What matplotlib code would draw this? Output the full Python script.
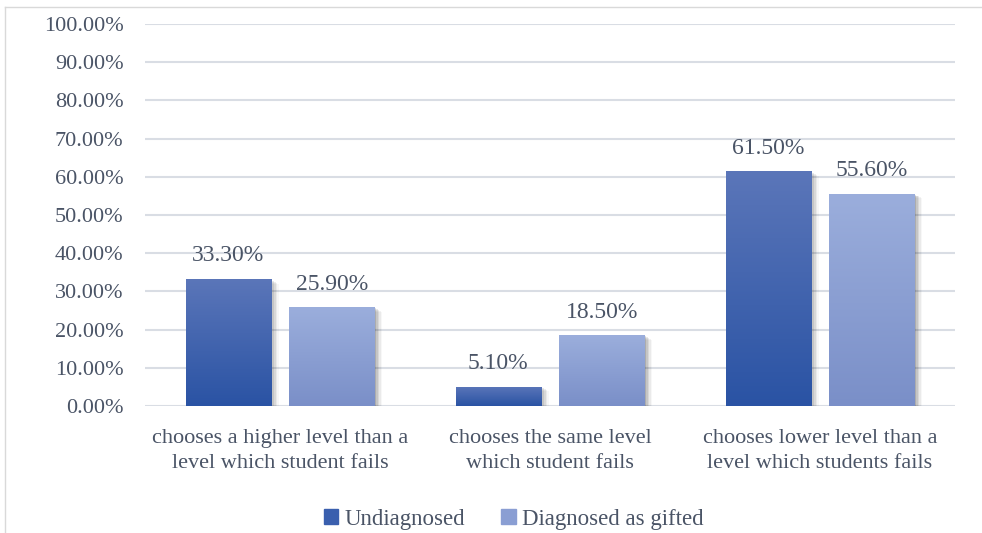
import matplotlib.pyplot as plt
import numpy as np
from matplotlib.colors import LinearSegmentedColormap
from matplotlib.patches import Rectangle
from matplotlib.lines import Line2D

categories = ["chooses a higher level than a\nlevel which student fails",
              "chooses the same level\nwhich student fails",
              "chooses lower level than a\nlevel which students fails"]
undiagnosed = [33.3, 5.1, 61.5]
gifted = [25.9, 18.5, 55.6]
series_names = ["Undiagnosed", "Diagnosed as gifted"]

text_color = "#4A5466"
plt.rcParams["font.family"] = ["Liberation Serif", "DejaVu Serif"]

fig = plt.figure(figsize=(9.82, 5.33), dpi=100)
ax = fig.add_axes([145 / 982, 127 / 533, 810 / 982, 382 / 533])

# outer frame (left and top edges visible)
fig.add_artist(Line2D([5 / 982, 5 / 982], [0, 1 - 7 / 533], transform=fig.transFigure,
                      color="#D9D9D9", lw=1))
fig.add_artist(Line2D([5 / 982, 1], [1 - 7 / 533, 1 - 7 / 533], transform=fig.transFigure,
                      color="#D9D9D9", lw=1))

x = np.arange(len(categories))
w = 0.315
off = 0.192

dark = LinearSegmentedColormap.from_list("dark", ["#2A53A4", "#5B76B9"])
light = LinearSegmentedColormap.from_list("light", ["#7A8FC8", "#9BAEDC"])
grad = np.linspace(0, 1, 256).reshape(-1, 1)


def gradient_bars(xs, vals, cmap):
    bars = ax.bar(xs, vals, w, color="none", zorder=3)
    for b in bars:
        x0, y0 = b.get_x(), b.get_y()
        bw, bh = b.get_width(), b.get_height()
        # soft shadow
        for i, a in enumerate([0.12, 0.09, 0.07, 0.05, 0.03]):
            d = 0.006 * (i + 1)
            ax.add_patch(Rectangle((x0 + d, y0 - 0.25 * (i + 1)), bw, bh,
                                   color="black", alpha=a, lw=0, zorder=2))
        im = ax.imshow(grad, cmap=cmap, aspect="auto", origin="lower",
                       extent=[x0, x0 + bw, y0, y0 + bh], zorder=3)
        im.set_clip_path(b)
    return bars


b1 = gradient_bars(x - off, undiagnosed, dark)
b2 = gradient_bars(x + off, gifted, light)

for bars in (b1, b2):
    for b in bars:
        ax.text(b.get_x() + b.get_width() / 2, b.get_height() + 6.0,
                f"{b.get_height():.2f}%", ha="center", va="center",
                fontsize=17, color=text_color)

ax.set_xlim(-0.5, 2.5)
ax.set_ylim(0, 100)
ax.set_yticks(np.arange(0, 101, 10))
ax.set_yticklabels([f"{v:.2f}%" for v in np.arange(0, 101, 10)])
ax.set_xticks(x)
ax.set_xticklabels(categories, linespacing=1.47)
ax.tick_params(axis="both", length=0, labelsize=16, colors=text_color)
ax.tick_params(axis="y", pad=15.5)
ax.tick_params(axis="x", pad=16.5)
ax.grid(axis="y", color="#D9DDE4", lw=1.5)
ax.set_axisbelow(True)
for s in ax.spines.values():
    s.set_visible(False)

handles = [Rectangle((0, 0), 1, 1, color="#3A5FAE"), Rectangle((0, 0), 1, 1, color="#8A9ED3")]
fig.legend(handles, series_names, loc="center", bbox_to_anchor=(0.523, 14 / 533),
           ncol=2, frameon=False, fontsize=16.5, handlelength=0.65, handleheight=0.65,
           handletextpad=0.25, columnspacing=1.6, labelcolor=text_color)

fig.savefig("out.png", dpi=100)
